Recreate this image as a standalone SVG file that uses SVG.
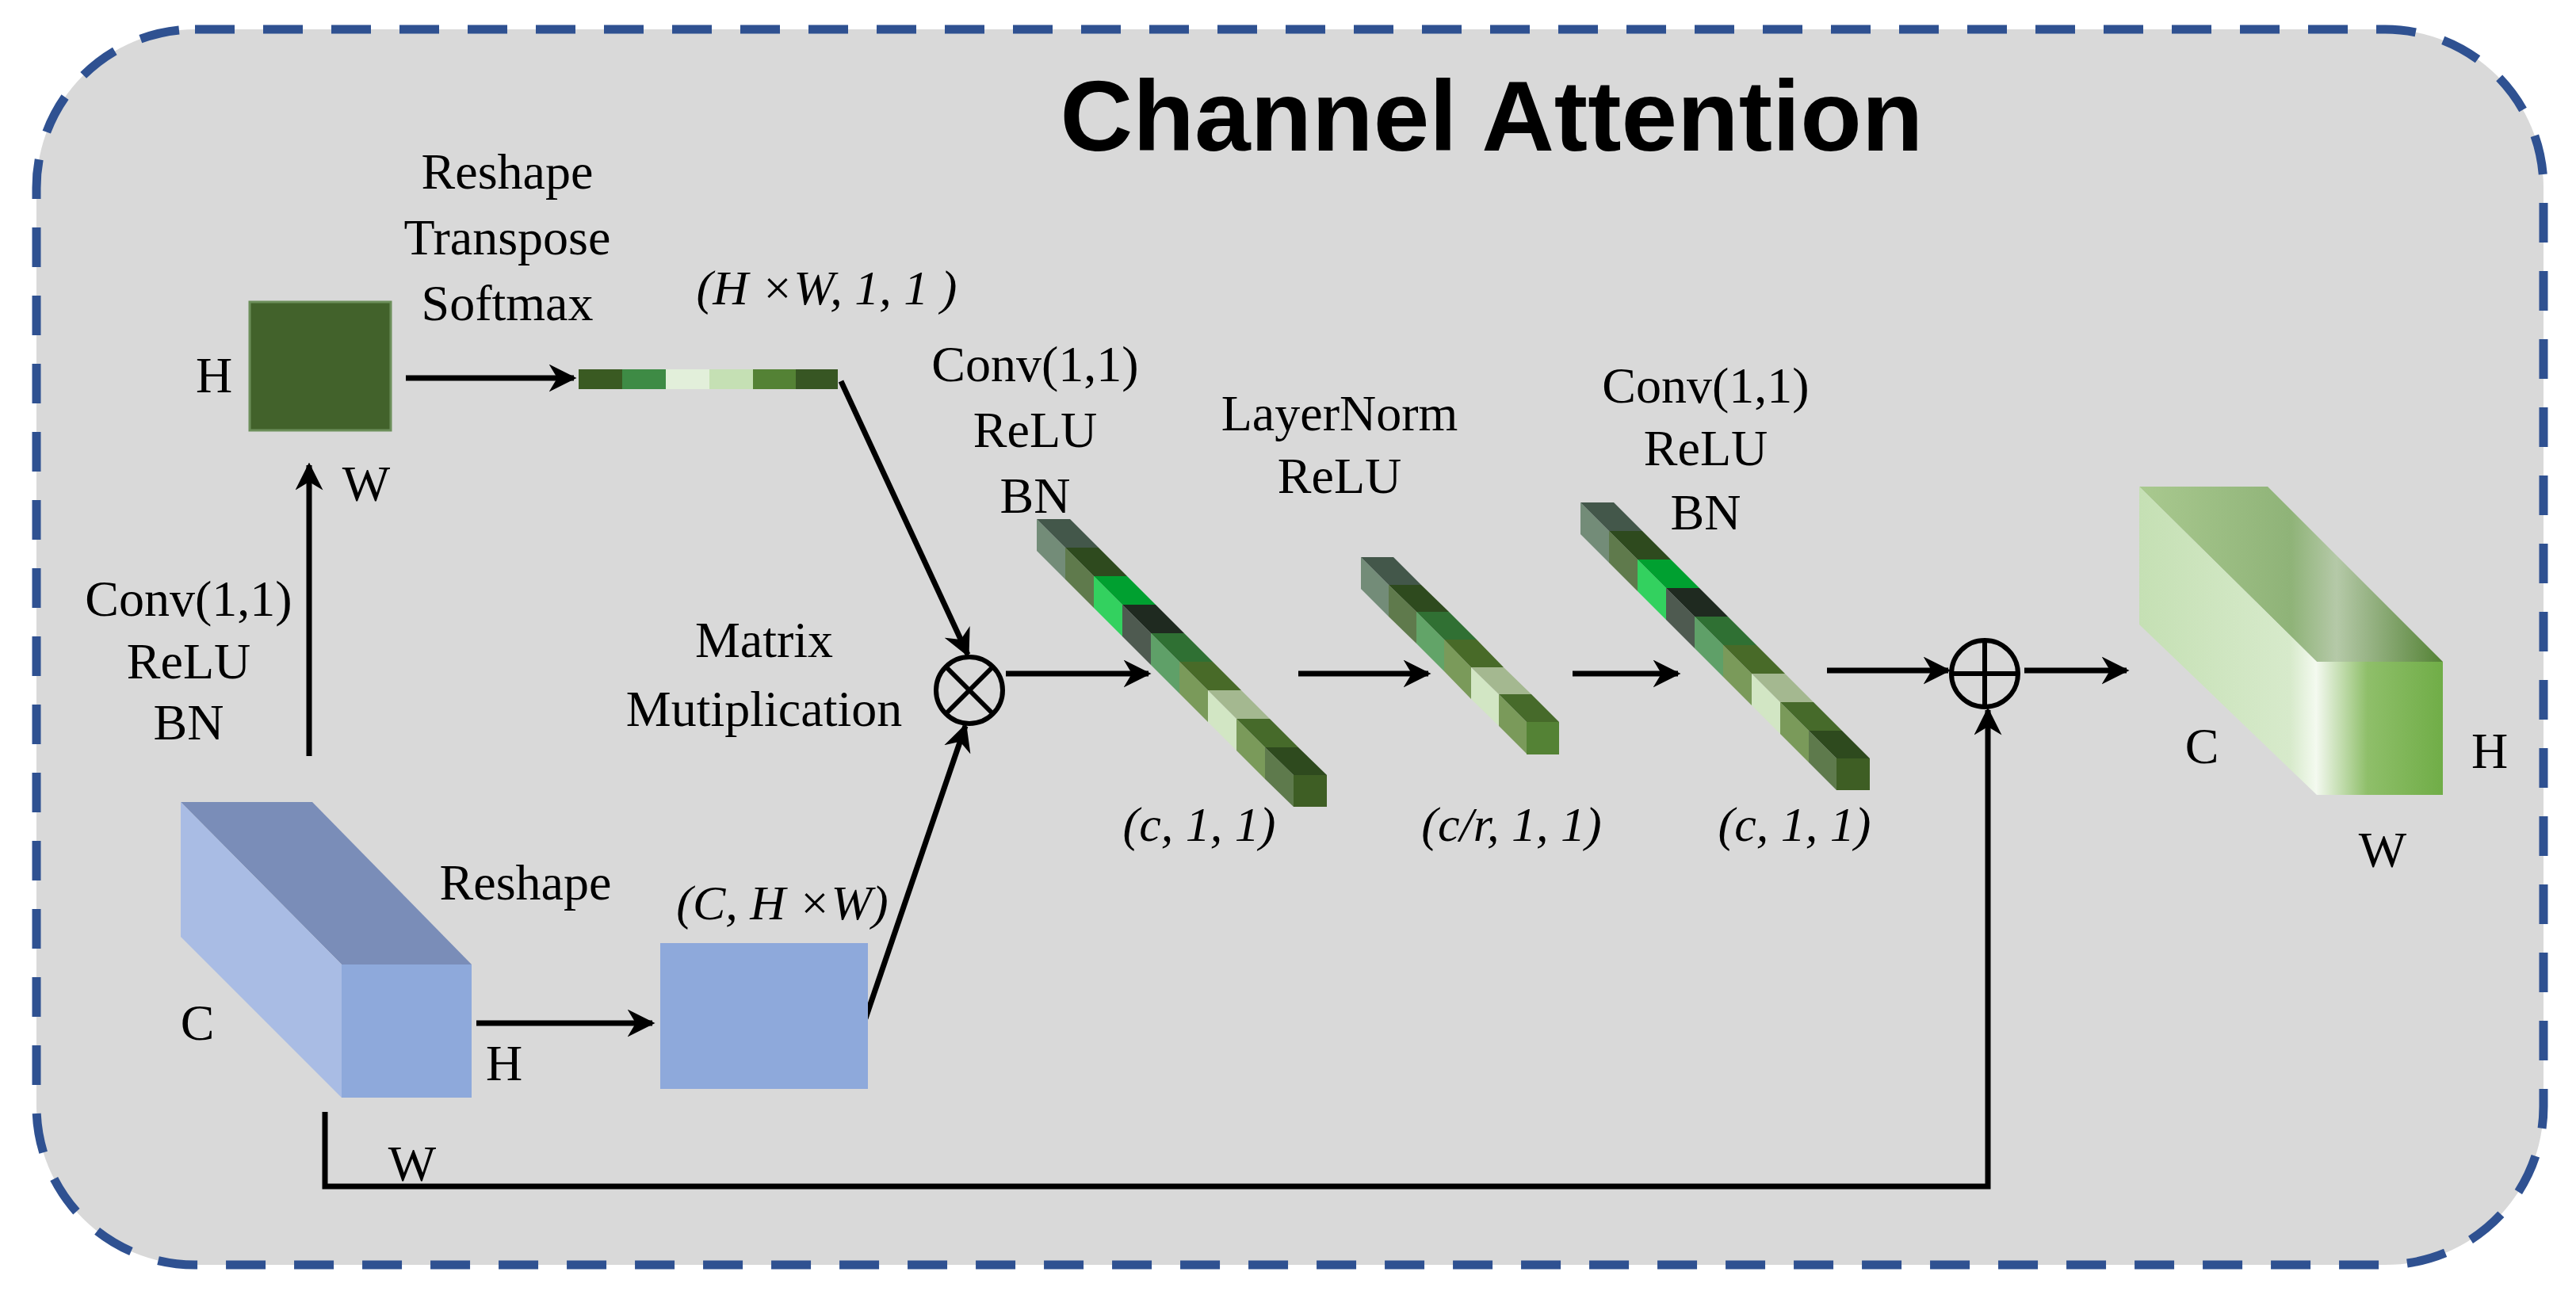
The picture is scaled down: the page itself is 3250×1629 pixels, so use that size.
<svg xmlns="http://www.w3.org/2000/svg" width="3250" height="1629" viewBox="0 0 3250 1629">
<defs>
<style>
.t{font-family:"Liberation Serif",serif;font-size:64px;fill:#000;text-anchor:middle}
.i{font-family:"Liberation Serif",serif;font-style:italic;font-size:62px;fill:#000;text-anchor:middle}
.ln{stroke:#000;stroke-width:7;fill:none}
</style>
<marker id="ah" viewBox="0 0 10 10" refX="9" refY="5" markerWidth="5" markerHeight="5" orient="auto" markerUnits="strokeWidth"><path d="M0,0 L10,5 L0,10 L3,5 Z" fill="#000"/></marker>
<linearGradient id="otop" x1="0" y1="0" x2="1" y2="0"><stop offset="0" stop-color="#A9C98F"/><stop offset="0.5" stop-color="#8FB378"/><stop offset="0.65" stop-color="#B5C9A8"/><stop offset="1" stop-color="#548235"/></linearGradient>
<linearGradient id="oleft" x1="0" y1="0" x2="1" y2="0"><stop offset="0" stop-color="#C5E0B4"/><stop offset="0.85" stop-color="#D7EACB"/><stop offset="1" stop-color="#F4FAF0"/></linearGradient>
<linearGradient id="ofront" x1="0" y1="0" x2="1" y2="0"><stop offset="0" stop-color="#F2F8EE"/><stop offset="0.4" stop-color="#8FBF6A"/><stop offset="1" stop-color="#70AD47"/></linearGradient>
</defs>
<rect x="46" y="37" width="3163" height="1559" rx="200" fill="#D9D9D9" stroke="#2F5191" stroke-width="11" stroke-dasharray="50,36"/>
<text x="1882" y="190" font-family="Liberation Sans,Arial,sans-serif" font-weight="bold" font-size="127" text-anchor="middle">Channel Attention</text>

<g id="connectors">
<line class="ln" x1="512" y1="477" x2="724" y2="477" marker-end="url(#ah)"/>
<line class="ln" x1="390" y1="954" x2="390" y2="587" marker-end="url(#ah)"/>
<line class="ln" x1="1061" y1="481" x2="1221" y2="826" marker-end="url(#ah)"/>
<line class="ln" x1="601" y1="1291" x2="823" y2="1291" marker-end="url(#ah)"/>
<line class="ln" x1="1092" y1="1285" x2="1218" y2="916" marker-end="url(#ah)"/>
<line class="ln" x1="1269" y1="850" x2="1449" y2="850" marker-end="url(#ah)"/>
<line class="ln" x1="1638" y1="850" x2="1802" y2="850" marker-end="url(#ah)"/>
<line class="ln" x1="1984" y1="850" x2="2117" y2="850" marker-end="url(#ah)"/>
<line class="ln" x1="2305" y1="846" x2="2458" y2="846" marker-end="url(#ah)"/>
<line class="ln" x1="2554" y1="846" x2="2683" y2="846" marker-end="url(#ah)"/>
<polyline class="ln" points="410,1403 410,1497 2508,1497 2508,896" marker-end="url(#ah)"/>
</g>

<g id="attn-map">
<rect x="315" y="381" width="178" height="162" fill="#42622B" stroke="#6C8F5A" stroke-width="3"/>
<text class="t" x="270" y="495">H</text>
<text class="t" x="462" y="632">W</text>
<text class="t" x="640" y="238">Reshape</text>
<text class="t" x="640" y="321">Transpose</text>
<text class="t" x="640" y="404">Softmax</text>
</g>

<g id="vector-hw">
<rect x="730" y="466" width="55" height="25" fill="#3A5A22"/>
<rect x="785" y="466" width="55" height="25" fill="#3E8B45"/>
<rect x="840" y="466" width="55" height="25" fill="#E2EFDA"/>
<rect x="895" y="466" width="55" height="25" fill="#C5E0B4"/>
<rect x="950" y="466" width="54" height="25" fill="#548235"/>
<rect x="1004" y="466" width="53" height="25" fill="#375623"/>
<text class="i" x="1043" y="384">(H ×W, 1, 1 )</text>
</g>

<g id="left-conv">
<text class="t" x="238" y="777">Conv(1,1)</text>
<text class="t" x="238" y="856">ReLU</text>
<text class="t" x="238" y="933">BN</text>
</g>

<g id="input-cube">
<polygon points="228,1012 394,1012 595,1217 431,1217" fill="#7A8DB8"/>
<polygon points="228,1012 431,1217 431,1385 228,1182" fill="#A9BCE4"/>
<rect x="431" y="1217" width="164" height="168" fill="#8EA9DB"/>
<text class="t" x="663" y="1135">Reshape</text>
<text class="t" x="249" y="1312">C</text>
<text class="t" x="636" y="1363">H</text>
<text class="t" x="520" y="1490">W</text>
</g>

<g id="reshaped">
<rect x="833" y="1190" width="262" height="184" fill="#8EA9DB"/>
<text class="i" x="987" y="1160">(C, H ×W)</text>
</g>

<g id="matmul">
<circle cx="1223" cy="871" r="42" fill="none" stroke="#000" stroke-width="6"/>
<line x1="1193" y1="841" x2="1253" y2="901" stroke="#000" stroke-width="6"/>
<line x1="1253" y1="841" x2="1193" y2="901" stroke="#000" stroke-width="6"/>
<text class="t" x="964" y="829">Matrix</text>
<text class="t" x="964" y="916">Mutiplication</text>
</g>

<g id="bar1">
<polygon points="1308,655 1344,691 1344,731 1308,695" fill="#738C78"/><polygon points="1308,655 1350,655 1386,691 1344,691" fill="#43574A"/>
<polygon points="1344,691 1380,727 1380,767 1344,731" fill="#5F7A4C"/><polygon points="1344,691 1386,691 1422,727 1380,727" fill="#2E4A1E"/>
<polygon points="1380,727 1416,763 1416,803 1380,767" fill="#33D15F"/><polygon points="1380,727 1422,727 1458,763 1416,763" fill="#00A030"/>
<polygon points="1416,763 1452,799 1452,839 1416,803" fill="#4E5A50"/><polygon points="1416,763 1458,763 1494,799 1452,799" fill="#1F2A20"/>
<polygon points="1452,799 1488,835 1488,875 1452,839" fill="#5FA068"/><polygon points="1452,799 1494,799 1530,835 1488,835" fill="#2F7033"/>
<polygon points="1488,835 1524,871 1524,911 1488,875" fill="#7A9A5A"/><polygon points="1488,835 1530,835 1566,871 1524,871" fill="#486A28"/>
<polygon points="1524,871 1560,907 1560,947 1524,911" fill="#D2E6C4"/><polygon points="1524,871 1566,871 1602,907 1560,907" fill="#A4B890"/>
<polygon points="1560,907 1596,943 1596,983 1560,947" fill="#7A9A5A"/><polygon points="1560,907 1602,907 1638,943 1596,943" fill="#466A2A"/>
<polygon points="1596,943 1632,978 1632,1018 1596,983" fill="#5E7A4C"/><polygon points="1596,943 1638,943 1674,978 1632,978" fill="#2E4A1E"/>
<rect x="1632" y="978" width="42" height="40" fill="#3E5E24"/>
<text class="t" x="1306" y="481">Conv(1,1)</text>
<text class="t" x="1306" y="564">ReLU</text>
<text class="t" x="1306" y="647">BN</text>
<text class="i" x="1513" y="1061">(c, 1, 1)</text>
</g>

<g id="bar2">
<polygon points="1717,703 1752,738 1752,778 1717,743" fill="#738C78"/><polygon points="1717,703 1758,703 1793,738 1752,738" fill="#43574A"/>
<polygon points="1752,738 1787,772 1787,812 1752,778" fill="#5F7A4C"/><polygon points="1752,738 1793,738 1828,772 1787,772" fill="#2E4A1E"/>
<polygon points="1787,772 1822,807 1822,847 1787,812" fill="#62A468"/><polygon points="1787,772 1828,772 1863,807 1822,807" fill="#307033"/>
<polygon points="1822,807 1856,842 1856,882 1822,847" fill="#7A9A5A"/><polygon points="1822,807 1863,807 1897,842 1856,842" fill="#486A28"/>
<polygon points="1856,842 1891,876 1891,916 1856,882" fill="#D2E6C4"/><polygon points="1856,842 1897,842 1932,876 1891,876" fill="#A4B890"/>
<polygon points="1891,876 1926,911 1926,951 1891,916" fill="#7A9A5A"/><polygon points="1891,876 1932,876 1967,911 1926,911" fill="#466A2A"/>
<rect x="1926" y="911" width="41" height="41" fill="#548235"/>
<text class="t" x="1690" y="543">LayerNorm</text>
<text class="t" x="1690" y="622">ReLU</text>
<text class="i" x="1907" y="1061">(c/r, 1, 1)</text>
</g>

<g id="bar3">
<polygon points="1994,634 2030,670 2030,710 1994,674" fill="#738C78"/><polygon points="1994,634 2036,634 2072,670 2030,670" fill="#43574A"/>
<polygon points="2030,670 2066,706 2066,746 2030,710" fill="#5F7A4C"/><polygon points="2030,670 2072,670 2108,706 2066,706" fill="#2E4A1E"/>
<polygon points="2066,706 2102,742 2102,782 2066,746" fill="#33D15F"/><polygon points="2066,706 2108,706 2144,742 2102,742" fill="#00A030"/>
<polygon points="2102,742 2138,778 2138,818 2102,782" fill="#4E5A50"/><polygon points="2102,742 2144,742 2180,778 2138,778" fill="#1F2A20"/>
<polygon points="2138,778 2174,814 2174,854 2138,818" fill="#5FA068"/><polygon points="2138,778 2180,778 2216,814 2174,814" fill="#2F7033"/>
<polygon points="2174,814 2210,850 2210,890 2174,854" fill="#7A9A5A"/><polygon points="2174,814 2216,814 2252,850 2210,850" fill="#486A28"/>
<polygon points="2210,850 2246,886 2246,926 2210,890" fill="#D2E6C4"/><polygon points="2210,850 2252,850 2288,886 2246,886" fill="#A4B890"/>
<polygon points="2246,886 2282,922 2282,962 2246,926" fill="#7A9A5A"/><polygon points="2246,886 2288,886 2324,922 2282,922" fill="#466A2A"/>
<polygon points="2282,922 2317,957 2317,997 2282,962" fill="#5E7A4C"/><polygon points="2282,922 2324,922 2359,957 2317,957" fill="#2E4A1E"/>
<rect x="2317" y="957" width="42" height="40" fill="#3E5E24"/>
<text class="t" x="2152" y="508">Conv(1,1)</text>
<text class="t" x="2152" y="587">ReLU</text>
<text class="t" x="2152" y="668">BN</text>
<text class="i" x="2264" y="1061">(c, 1, 1)</text>
</g>

<g id="add">
<circle cx="2504" cy="850" r="42" fill="none" stroke="#000" stroke-width="6"/>
<line x1="2462" y1="850" x2="2546" y2="850" stroke="#000" stroke-width="6"/>
<line x1="2504" y1="808" x2="2504" y2="892" stroke="#000" stroke-width="6"/>
</g>

<g id="output-cube">
<polygon points="2699,614 2861,614 3082,835 2923,835" fill="url(#otop)"/>
<polygon points="2699,614 2923,835 2923,1003 2699,788" fill="url(#oleft)"/>
<rect x="2923" y="835" width="159" height="168" fill="url(#ofront)"/>
<text class="t" x="2778" y="963">C</text>
<text class="t" x="3141" y="969">H</text>
<text class="t" x="3006" y="1094">W</text>
</g>
</svg>
